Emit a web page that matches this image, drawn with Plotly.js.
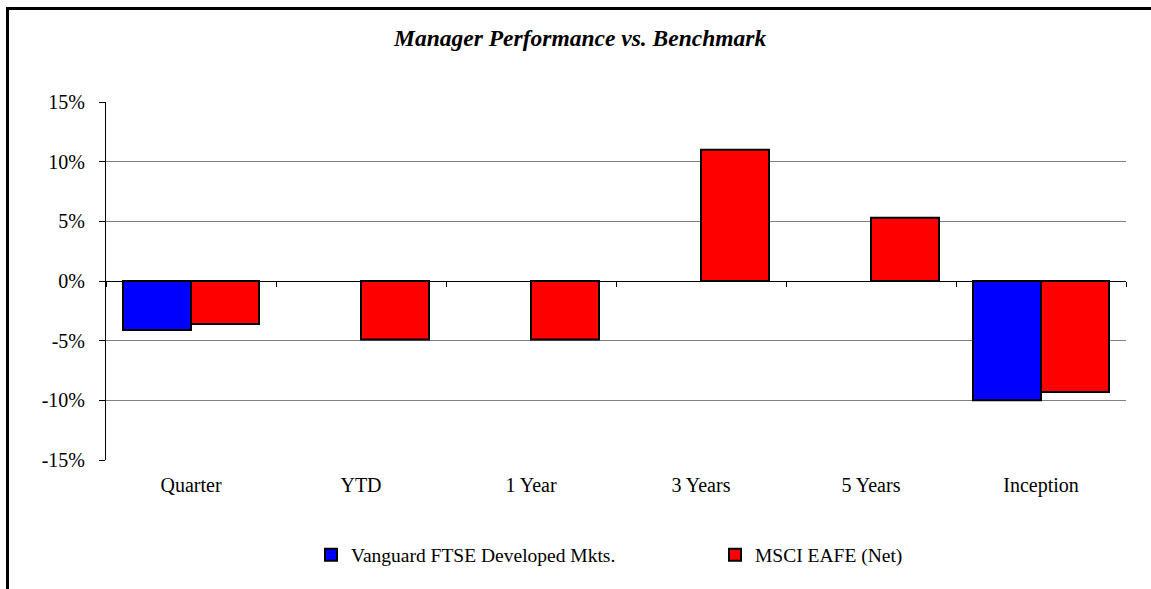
<!DOCTYPE html>
<html>
<head>
<meta charset="utf-8">
<script src="https://cdn.plot.ly/plotly-3.0.1.min.js"></script>
<style>
  html, body { margin: 0; padding: 0; background: #fff; overflow: hidden; }
  #frame { position: absolute; left: 6px; top: 7px; width: 2000px; height: 2000px;
           border-left: 3px solid #000; border-top: 3px solid #000; z-index: 0; }
  #chart { position: absolute; left: 0; top: 0; width: 1151px; height: 589px; z-index: 1; }
</style>
</head>
<body>
<div id="frame"></div>
<div id="chart"></div>
<script>
const categories = ["Quarter", "YTD", "1 Year", "3 Years", "5 Years", "Inception"];
const managerName = "Vanguard FTSE Developed Mkts.";
const managerValues = [-4.1, null, null, null, null, -10.0];
const benchmarkName = "MSCI EAFE (Net)";
const benchmarkValues = [-3.6, -4.9, -4.9, 11.0, 5.3, -9.3];
const yTickVals = [-15, -10, -5, 0, 5, 10, 15];
const yTickText = ["-15%", "-10%", "-5%", "0%", "5%", "10%", "15%"];
const chartTitle = "Manager Performance vs. Benchmark";

const yMin = -15, yMax = 15;
const font = "Liberation Serif, Times New Roman, serif";

const traces = [
  { type: "bar", name: managerName, x: categories, y: managerValues,
    marker: { color: "#0000FF", line: { color: "#000", width: 2 } } },
  { type: "bar", name: benchmarkName, x: categories, y: benchmarkValues,
    marker: { color: "#FF0000", line: { color: "#000", width: 2 } } },
  { type: "scatter", mode: "markers", x: categories, y: categories.map(() => null),
    xaxis: "x2", yaxis: "y", showlegend: false, hoverinfo: "skip" }
];

const layout = {
  width: 1151, height: 589,
  margin: { l: 106, r: 25, t: 102, b: 129, autoexpand: false },
  paper_bgcolor: "rgba(0,0,0,0)",
  plot_bgcolor: "rgba(0,0,0,0)",
  font: { family: font, size: 20, color: "#000" },
  title: { text: "<b><i>" + chartTitle + "</i></b>", font: { family: font, size: 23.5, color: "#000" },
           x: 0.504, xanchor: "center", y: 1 - 38 / 589, yanchor: "middle" },
  barmode: "group", bargap: 0.2, bargroupgap: 0,
  hovermode: false,
  showlegend: true,
  legend: { orientation: "h", xref: "container", yref: "container",
            x: 311 / 1151, xanchor: "left", y: 1 - 555 / 589, yanchor: "middle",
            font: { family: font, size: 19.5, color: "#000" }, entrywidth: 359, traceorder: "normal" },
  xaxis: { type: "category", range: [-0.5, categories.length - 0.5], showgrid: false,
           zeroline: false, showline: false, ticks: "", ticklabelstandoff: 11,
           tickfont: { family: font, size: 20, color: "#000" }, fixedrange: true },
  xaxis2: { type: "category", overlaying: "x", anchor: "free",
            position: (0 - yMin) / (yMax - yMin), side: "bottom",
            range: [-0.5, categories.length - 0.5], showgrid: false, zeroline: false,
            showline: false, ticks: "outside", tickson: "boundaries", ticklen: 5,
            tickcolor: "#000", tickwidth: 1, showticklabels: false, fixedrange: true },
  yaxis: { range: [yMin, yMax], tickvals: yTickVals, ticktext: yTickText,
           showgrid: true, gridcolor: "#808080", gridwidth: 1,
           zeroline: true, zerolinecolor: "#000", zerolinewidth: 1,
           showline: true, linecolor: "#000", linewidth: 1,
           ticks: "outside", ticklen: 6, tickcolor: "#000", ticklabelstandoff: 10,
           tickfont: { family: font, size: 20, color: "#000" }, fixedrange: true }
};

Plotly.newPlot("chart", traces, layout, { displayModeBar: false, staticPlot: true });
</script>
</body>
</html>
